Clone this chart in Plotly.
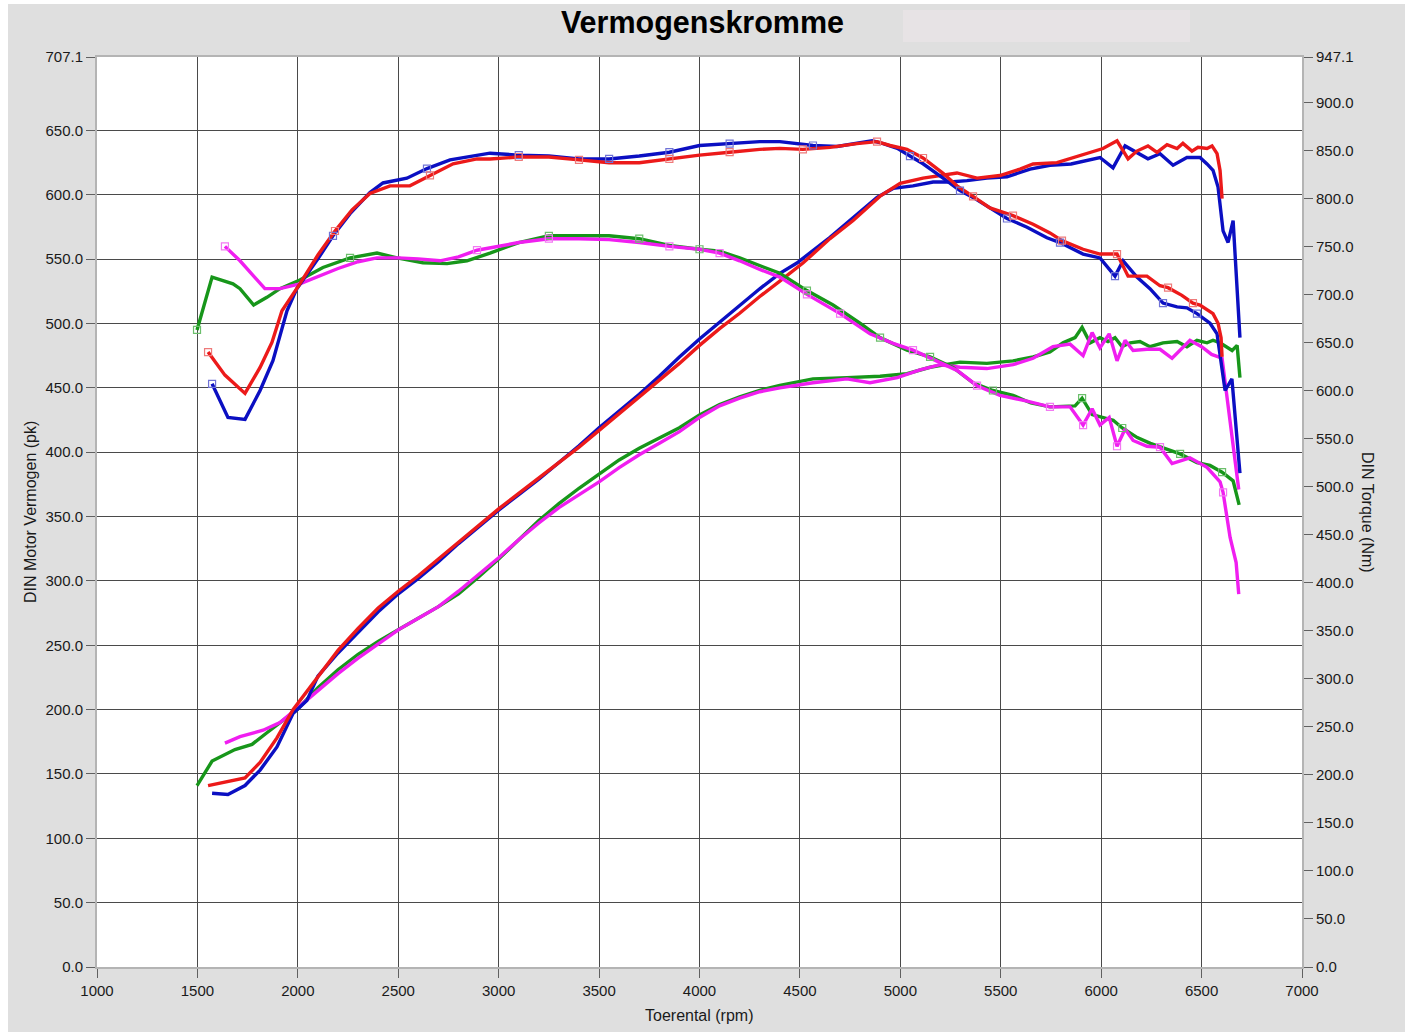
import numpy as np
import plotly.graph_objects as go

# ---------------- data ----------------
# Power curves (pk, left axis)
blue_p_rpm = [1573, 1652, 1737, 1812, 1896, 1976, 2045, 2100, 2200, 2300, 2400, 2500, 2600, 2700, 2800, 2900,
              3000, 3100, 3200, 3300, 3400, 3500, 3600, 3700, 3800, 3900, 4000, 4100, 4200, 4300, 4400,
              4485, 4650, 4765, 4884, 4964, 5063, 5163, 5247, 5332, 5431, 5531, 5646, 5745, 5850, 5994,
              6059, 6119, 6178, 6233, 6293, 6358, 6427, 6492, 6527, 6557, 6582, 6607, 6632, 6657, 6691]
blue_p = [135, 134, 141, 153, 171, 197, 207, 226, 244, 260, 276, 290, 302, 315, 329, 342,
          355, 367, 379, 392, 405, 419, 432, 445, 459, 474, 488, 501, 514, 527, 539,
          547, 567, 582, 598, 605, 607, 610, 610, 611, 613, 614, 620, 623, 624, 629,
          621, 638, 633, 628, 632, 623, 629, 629, 624, 619, 606, 572, 563, 580, 489]

red_p_rpm = [1553, 1650, 1737, 1812, 1896, 1976, 2100, 2200, 2300, 2400, 2500, 2600, 2700, 2800, 2900,
             3000, 3100, 3200, 3300, 3400, 3500, 3600, 3700, 3800, 3900, 4000, 4100, 4200, 4300, 4400,
             4515, 4650, 4765, 4899, 4999, 5113, 5282, 5382, 5496, 5596, 5661, 5780, 5910, 6009, 6079,
             6134, 6178, 6233, 6278, 6328, 6378, 6407, 6452, 6482, 6527, 6552, 6577, 6592, 6602]
red_p = [141, 144, 147, 159, 178, 200, 226, 246, 263, 279, 292, 304, 317, 330, 343,
         356, 368, 380, 392, 404, 417, 430, 443, 456, 469, 483, 496, 508, 521, 533,
         547, 566, 580, 599, 609, 613, 617, 613, 615, 620, 624, 625, 631, 636, 642,
         628, 634, 638, 633, 639, 636, 640, 634, 637, 636, 638, 632, 619, 597]

green_p_rpm = [1498, 1573, 1687, 1772, 1846, 1911, 1996, 2100, 2200, 2300, 2400, 2500, 2600, 2700, 2800,
               2900, 3000, 3100, 3200, 3300, 3400, 3500, 3600, 3700, 3800, 3900, 4000, 4100, 4200, 4300,
               4400, 4565, 4734, 4899, 5033, 5148, 5297, 5431, 5561, 5661, 5745, 5810, 5870, 5905, 5945,
               5994, 6034, 6069, 6104, 6144, 6193, 6243, 6308, 6378, 6427, 6477, 6527, 6557, 6592, 6652,
               6677, 6691]
green_p = [141, 160, 169, 173, 182, 190, 200, 217, 231, 243, 253, 262, 271, 280, 290,
           303, 317, 332, 347, 360, 372, 383, 394, 403, 411, 419, 429, 437, 443, 448,
           452, 457, 458, 459, 461, 466, 470, 469, 471, 474, 478, 485, 489, 497, 485,
           489, 486, 489, 482, 485, 486, 482, 485, 486, 482, 487, 485, 487, 485, 479,
           483, 458]

mag_p_rpm = [1637, 1712, 1827, 1911, 1996, 2100, 2200, 2300, 2400, 2500, 2600, 2700, 2800, 2900, 3000,
             3100, 3200, 3300, 3400, 3500, 3600, 3700, 3800, 3900, 4000, 4100, 4200, 4300, 4400, 4565,
             4734, 4849, 4985, 5098, 5198, 5297, 5431, 5561, 5661, 5760, 5845, 5910, 5955, 5994, 6040,
             6079, 6119, 6159, 6228, 6293, 6353, 6442, 6500, 6550, 6602, 6685]
mag_p = [174, 179, 184, 190, 201, 215, 228, 240, 251, 262, 271, 280, 292, 305, 318,
         332, 345, 357, 367, 377, 388, 398, 407, 416, 427, 436, 442, 447, 450, 454,
         457, 454, 458, 464, 468, 466, 465, 468, 473, 482, 484, 475, 493, 481, 492,
         471, 487, 479, 480, 480, 473, 487, 482, 476, 473, 371]

# Torque curves (Nm, right axis)
blue_t_rpm = [1573, 1652, 1737, 1812, 1876, 1946, 1995, 2100, 2175, 2260, 2359, 2424, 2543, 2643, 2758,
              2892, 2957, 3100, 3250, 3400, 3550, 3700, 3850, 4000, 4150, 4300, 4400, 4565, 4685, 4765,
              4860, 4915, 4985, 5048, 5113, 5213, 5297, 5362, 5446, 5531, 5631, 5730, 5795, 5910, 5994,
              6069, 6109, 6178, 6243, 6308, 6378, 6427, 6477, 6542, 6577, 6617, 6651, 6691]
blue_t = [607, 572, 570, 600, 631, 683, 706, 737, 761, 784, 806, 816, 821, 831, 840,
          845, 847, 845, 844, 841, 841, 844, 848, 855, 857, 859, 859, 855, 854, 857,
          860, 857, 852, 844, 836, 821, 808, 801, 790, 779, 770, 759, 754, 742, 738,
          719, 735, 718, 706, 691, 687, 686, 680, 670, 659, 600, 612, 514]

red_t_rpm = [1553, 1637, 1737, 1812, 1871, 1921, 2010, 2100, 2185, 2270, 2359, 2459, 2558, 2658, 2773,
             2892, 2957, 3100, 3250, 3400, 3550, 3700, 3850, 4000, 4150, 4300, 4400, 4515, 4650, 4784,
             4884, 4949, 5033, 5113, 5213, 5282, 5362, 5446, 5561, 5661, 5745, 5805, 5910, 5994, 6079,
             6134, 6228, 6293, 6333, 6402, 6457, 6492, 6557, 6582, 6597, 6602]
red_t = [640, 616, 597, 624, 650, 683, 711, 741, 766, 788, 805, 813, 813, 824, 836,
         841, 841, 843, 843, 840, 837, 837, 841, 845, 848, 851, 852, 851, 853, 857,
         859, 855, 851, 842, 826, 813, 802, 790, 782, 773, 764, 756, 747, 742, 742,
         719, 719, 709, 707, 699, 691, 689, 680, 670, 655, 635]

green_t_rpm = [1498, 1573, 1677, 1712, 1780, 1846, 1911, 2010, 2125, 2260, 2394, 2494, 2623, 2743, 2842,
               2957, 3100, 3250, 3400, 3550, 3700, 3850, 4000, 4100, 4200, 4300, 4400, 4535, 4665, 4799,
               4899, 5033, 5148, 5262, 5362, 5461, 5561, 5650, 5745, 5870, 5905, 5955, 6060, 6105, 6180,
               6245, 6393, 6477, 6542, 6602, 6657, 6687]
green_t = [663, 718, 711, 706, 689, 697, 706, 715, 728, 738, 743, 738, 733, 732, 735,
           743, 754, 761, 761, 761, 758, 751, 747, 745, 738, 730, 722, 704, 689, 670,
           655, 642, 635, 624, 608, 600, 595, 587, 583, 584, 592, 575, 569, 561, 551,
           545, 534, 525, 522, 515, 506, 481]

mag_t_rpm = [1637, 1712, 1836, 1911, 2010, 2100, 2200, 2300, 2394, 2500, 2600, 2708, 2800, 2892, 3000,
             3100, 3250, 3400, 3550, 3700, 3850, 4000, 4100, 4200, 4300, 4400, 4535, 4700, 4849, 4964,
             5063, 5183, 5282, 5382, 5496, 5631, 5745, 5845, 5910, 5955, 5994, 6040, 6079, 6119, 6159,
             6228, 6293, 6353, 6442, 6527, 6592, 6607, 6642, 6672, 6685]
mag_t = [750, 735, 706, 706, 711, 719, 727, 734, 738, 738, 737, 735, 739, 746, 750,
         754, 758, 758, 757, 754, 750, 747, 743, 735, 726, 718, 700, 680, 659, 649,
         642, 631, 621, 605, 595, 589, 583, 583, 564, 581, 564, 572, 542, 560, 548,
         542, 541, 524, 530, 520, 505, 494, 447, 421, 388]

# marker positions (rpm) on the torque curves
blue_mk = [1573, 2175, 2643, 3100, 3550, 3850, 4150, 4565, 5048, 5297, 5531, 5795, 6069, 6308, 6477]
red_mk = [1553, 2185, 2658, 3100, 3400, 3850, 4150, 4515, 4884, 5113, 5362, 5561, 5805, 6079, 6333, 6457]
green_mk = [1498, 2260, 3250, 3700, 4000, 4535, 4899, 5148, 5461, 5905, 6105, 6393, 6602]
mag_mk = [1637, 2892, 3250, 3850, 4100, 4535, 4700, 5063, 5382, 5745, 5910, 6079, 6293, 6607]

left_ticks = [0, 50, 100, 150, 200, 250, 300, 350, 400, 450, 500, 550, 600, 650, 707.1]
right_ticks = [0, 50, 100, 150, 200, 250, 300, 350, 400, 450, 500, 550, 600, 650, 700, 750, 800,
               850, 900, 947.1]
x_ticks = [1000, 1500, 2000, 2500, 3000, 3500, 4000, 4500, 5000, 5500, 6000, 6500, 7000]

# ---------------- styling ----------------
C_BLUE = "#0b0fc2"
C_RED = "#ec1a1a"
C_GREEN = "#17961a"
C_MAG = "#f01ef0"
M_BLUE = "#6f72d6"
M_RED = "#ee7a7a"
M_GREEN = "#6cbf6c"
M_MAG = "#f27af2"
FONT = "Liberation Sans, Arial, sans-serif"
LW = 3.4

fig = go.Figure()


def add_curve(x, y, color, axis):
    fig.add_trace(go.Scatter(x=x, y=y, mode="lines", yaxis=axis,
                             line=dict(color=color, width=LW), hoverinfo="skip"))


def add_markers(x, y, mk, color, axis):
    xa = np.asarray(x)
    idx = [int(np.argmin(np.abs(xa - m))) for m in mk]
    fig.add_trace(go.Scatter(x=[x[i] for i in idx], y=[y[i] for i in idx], mode="markers", yaxis=axis,
                             marker=dict(symbol="square-open", size=7, color=color,
                                         line=dict(width=1.2, color=color)),
                             hoverinfo="skip"))


add_curve(green_p_rpm, green_p, C_GREEN, "y")
add_curve(green_t_rpm, green_t, C_GREEN, "y2")
add_curve(mag_p_rpm, mag_p, C_MAG, "y")
add_curve(mag_t_rpm, mag_t, C_MAG, "y2")
add_curve(blue_p_rpm, blue_p, C_BLUE, "y")
add_curve(blue_t_rpm, blue_t, C_BLUE, "y2")
add_curve(red_p_rpm, red_p, C_RED, "y")
add_curve(red_t_rpm, red_t, C_RED, "y2")
add_markers(green_t_rpm, green_t, green_mk, M_GREEN, "y2")
add_markers(mag_t_rpm, mag_t, mag_mk, M_MAG, "y2")
add_markers(blue_t_rpm, blue_t, blue_mk, M_BLUE, "y2")
add_markers(red_t_rpm, red_t, red_mk, M_RED, "y2")

W, H = 1405, 1032
ML, MR, MT, MB = 97, 103, 57, 65
PW, PH = W - ML - MR, H - MT - MB


def px_x(p):
    return (p - ML) / PW


def px_y(p):
    return (H - MB - p) / PH


axis_common = dict(showline=True, linecolor="#b4b4b4", linewidth=2, ticks="outside", ticklen=9,
                   tickcolor="#606060", tickwidth=1, zeroline=False,
                   tickfont=dict(family=FONT, size=15, color="#1a1a1a"))

fig.update_layout(
    width=W, height=H,
    margin=dict(l=ML, r=MR, t=MT, b=MB, pad=0),
    paper_bgcolor="white", plot_bgcolor="white",
    showlegend=False,
    title=dict(text="<b>Vermogenskromme</b>", x=0.5, xref="container", xanchor="center",
               y=1 - 22 / H, yanchor="middle", yref="container",
               font=dict(family=FONT, size=30.5, color="black")),
    xaxis=dict(range=[1000, 7000], tickvals=x_ticks, ticktext=[str(v) for v in x_ticks],
               showgrid=True, gridcolor="#4a4a4a", gridwidth=1, mirror=True, **axis_common),
    yaxis=dict(range=[0, 707.1], tickvals=left_ticks, ticktext=["%.1f" % v for v in left_ticks],
               showgrid=True, gridcolor="#4a4a4a", gridwidth=1, mirror=True, **axis_common),
    yaxis2=dict(range=[0, 947.1], tickvals=right_ticks, ticktext=["%.1f" % v for v in right_ticks],
                overlaying="y", side="right", showgrid=False, **axis_common),
    shapes=[
        dict(type="rect", xref="paper", yref="paper", x0=px_x(8), x1=px_x(W), y0=px_y(H), y1=px_y(4),
             fillcolor="#dfdfdf", line=dict(width=0), layer="below"),
        dict(type="rect", xref="paper", yref="paper", x0=0, x1=1, y0=0, y1=1,
             fillcolor="white", line=dict(width=0), layer="below"),
        dict(type="rect", xref="paper", yref="paper", x0=px_x(903), x1=px_x(1190), y0=px_y(42), y1=px_y(10),
             fillcolor="#e7e3e5", line=dict(width=0), layer="below"),
    ],
    annotations=[
        dict(text="DIN Motor Vermogen (pk)", xref="paper", yref="paper", x=px_x(30), y=0.5,
             textangle=-90, showarrow=False, xanchor="center", yanchor="middle",
             font=dict(family=FONT, size=16, color="#1a1a1a")),
        dict(text="DIN Torque (Nm)", xref="paper", yref="paper", x=px_x(1368), y=0.5,
             textangle=90, showarrow=False, xanchor="center", yanchor="middle",
             font=dict(family=FONT, size=16, color="#1a1a1a")),
        dict(text="Toerental (rpm)", xref="paper", yref="paper", x=px_x(699), y=px_y(1015),
             showarrow=False, xanchor="center", yanchor="middle",
             font=dict(family=FONT, size=16, color="#1a1a1a")),
    ],
)

fig.write_html("out.html", config={"displayModeBar": False},
               post_script="document.body.style.margin='0';")
